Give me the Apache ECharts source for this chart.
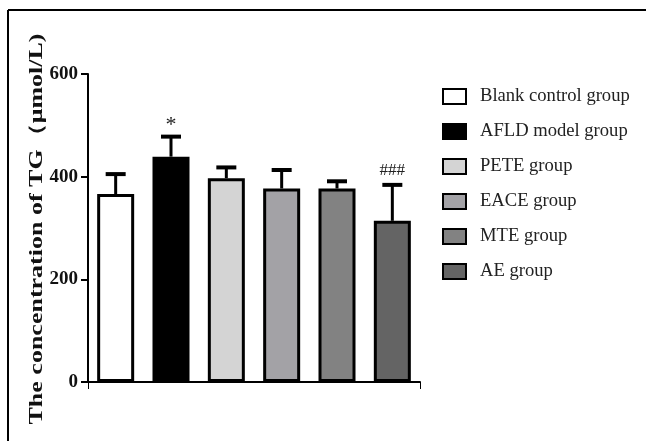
<!DOCTYPE html>
<html>
<head>
<meta charset="utf-8">
<script src="https://cdn.jsdelivr.net/npm/echarts@6/dist/echarts.min.js"></script>
<style>
  html, body { margin: 0; padding: 0; background: #fff; }
  #main { width: 646px; height: 441px; }
</style>
</head>
<body>
<div id="main"></div>
<script>
// groups, means and upper error (SD)
var groups = ['Blank control group', 'AFLD model group', 'PETE group', 'EACE group', 'MTE group', 'AE group'];
var means = [366, 439, 397, 377, 377, 314];
var errs = [39, 39, 21, 36, 14, 70];
var marks = ['', '*', '', '', '', '###'];
var colors = ['#ffffff', '#000000', '#d4d4d4', '#a3a2a6', '#828282', '#646464'];
var yTicks = [0, 200, 400, 600];
var yTitle = 'The concentration of TG（μmol/L)';

var chart = echarts.init(document.getElementById('main'));
var serif = '"Times New Roman", "Liberation Serif", serif';

var series = groups.map(function (g, i) {
  return {
    name: g,
    type: 'bar',
    barWidth: 37,
    barGap: '-100%',
    data: groups.map(function (_, j) { return j === i ? means[i] : '-'; }),
    itemStyle: { color: colors[i], borderColor: '#000', borderWidth: 3 }
  };
});

// error bars (upper only) + significance marks
series.push({
  type: 'custom',
  silent: true,
  z: 1,
  data: means.map(function (m, i) { return [i, m, m + errs[i]]; }),
  renderItem: function (params, api) {
    var i = api.value(0);
    var base = api.coord([i, api.value(1)]);
    var top = api.coord([i, api.value(2)]);
    var children = [
      { type: 'line', shape: { x1: base[0], y1: base[1], x2: top[0], y2: top[1] },
        style: { stroke: '#000', lineWidth: 3 } },
      { type: 'line', shape: { x1: top[0] - 10, y1: top[1], x2: top[0] + 10, y2: top[1] },
        style: { stroke: '#000', lineWidth: 4 } }
    ];
    if (marks[i]) {
      var star = marks[i] === '*';
      children.push({ type: 'text', x: top[0], y: top[1] - (star ? 11 : 14),
        style: { text: marks[i], fill: '#222', font: (star ? '22px ' : '17px ') + serif,
                 align: 'center', verticalAlign: 'middle' } });
    }
    return { type: 'group', children: children };
  }
});

chart.setOption({
  animation: false,
  backgroundColor: '#fff',
  grid: { left: 88, right: 226, top: 74, bottom: 59 },
  legend: {
    orient: 'vertical',
    left: 437,
    top: 82,
    itemWidth: 23,
    itemHeight: 15,
    itemGap: 16,
    icon: 'rect',
    data: groups,
    textStyle: { fontFamily: serif, fontSize: 18.6, color: '#222', padding: [0, 0, 0, 9] }
  },
  xAxis: {
    type: 'category',
    data: groups,
    axisLine: { lineStyle: { color: '#000', width: 2 } },
    axisTick: { show: true, interval: function (idx) { return idx === 3; }, length: 7, lineStyle: { color: '#000', width: 1 } },
    axisLabel: { show: false }
  },
  yAxis: {
    type: 'value',
    min: yTicks[0],
    max: yTicks[yTicks.length - 1],
    interval: 200,
    splitLine: { show: false },
    axisLine: { show: true, lineStyle: { color: '#000', width: 2 } },
    axisTick: { show: true, length: 7, lineStyle: { color: '#000', width: 2 } },
    axisLabel: { fontFamily: serif, fontSize: 19, fontWeight: 'bold', color: '#111', margin: 10 }
  },
  graphic: [
    { type: 'line', shape: { x1: 8, y1: 10, x2: 646, y2: 10 }, style: { stroke: '#000', lineWidth: 2 } },
    { type: 'line', shape: { x1: 8, y1: 10, x2: 8, y2: 441 }, style: { stroke: '#000', lineWidth: 2 } },
    { type: 'text', x: 37, y: 229, rotation: Math.PI / 2, scaleX: 1.3, scaleY: 0.95,
      style: { text: yTitle, font: 'bold 20px ' + serif, fill: '#111', align: 'center', verticalAlign: 'middle' } }
  ],
  series: series
});
</script>
</body>
</html>
